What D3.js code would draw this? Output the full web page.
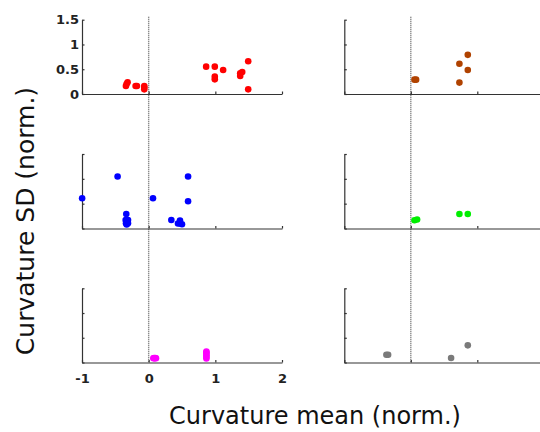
<!DOCTYPE html>
<html>
<head>
<meta charset="utf-8">
<script src="https://cdn.jsdelivr.net/npm/d3@7"></script>
<style>
  html, body { margin: 0; padding: 0; background: #fff; }
  svg { display: block; }
  .axis path, .axis line { stroke: #333; stroke-width: 1.2; }
  .axis text { font-family: "DejaVu Sans", sans-serif; font-weight: bold; font-size: 13px; fill: #222; }
  .label { font-family: "DejaVu Sans", sans-serif; font-size: 24px; fill: #111; }
</style>
</head>
<body>
<svg id="chart" width="540" height="432"></svg>
<script>
// Axis ticks shared by every panel
const xTicks = [-1, 0, 1, 2];
const yTicks = [0, 0.5, 1, 1.5];
const yTickLabels = ["0", "0.5", "1", "1.5"];
const xTickLabels = ["-1", "0", "1", "2"];

// Groups: [curvature mean, curvature SD]
const redPts = [
  [-0.316, 0.236], [-0.341, 0.16], [-0.331, 0.20], [-0.196, 0.16], [-0.176, 0.16],
  [-0.066, 0.16], [-0.066, 0.094], [-0.066, 0.13],
  [0.862, 0.552], [0.992, 0.552], [1.117, 0.485], [0.992, 0.35], [0.992, 0.296],
  [1.373, 0.418], [1.373, 0.364], [1.403, 0.444], [1.493, 0.66], [1.493, 0.094]
];
const brownPts = [
  [0.055, 0.29], [0.08, 0.29], [0.731, 0.61], [0.857, 0.79], [0.857, 0.485], [0.731, 0.23]
];
const bluePts = [
  [-0.998, 0.61], [-0.466, 1.046], [0.065, 0.61], [0.591, 1.046], [0.591, 0.55],
  [-0.336, 0.293], [-0.345, 0.17], [-0.31, 0.17], [-0.34, 0.105], [-0.31, 0.105],
  [-0.325, 0.135], [-0.33, 0.08],
  [0.34, 0.17], [0.47, 0.16], [0.47, 0.10], [0.5, 0.085], [0.44, 0.10]
];
const greenPts = [
  [0.055, 0.165], [0.095, 0.18], [0.731, 0.293], [0.857, 0.293]
];
const magentaPts = [
  [0.07, 0.085], [0.08, 0.09], [0.09, 0.085], [0.10, 0.09], [0.11, 0.085],
  [0.866, 0.08], [0.866, 0.11], [0.866, 0.14], [0.866, 0.17], [0.866, 0.20], [0.866, 0.22]
];
const grayPts = [
  [-0.367, 0.158], [-0.341, 0.158], [0.606, 0.09], [0.857, 0.347]
];

const groups = [
  { pts: redPts,     color: "#ff0000", col: 0, row: 0 },
  { pts: brownPts,   color: "#b04200", col: 1, row: 0 },
  { pts: bluePts,    color: "#0000ff", col: 0, row: 1 },
  { pts: greenPts,   color: "#00ee00", col: 1, row: 1 },
  { pts: magentaPts, color: "#ff00ff", col: 0, row: 2 },
  { pts: grayPts,    color: "#7a7a7a", col: 1, row: 2 }
];

const svg = d3.select("#chart");

// Grid of panels: horizontal extents per column, vertical extents per row
const colRanges = [[82, 282], [344.3, 543.8]];
const rowRanges = [[94, 19.7], [228.5, 154], [362.5, 288.3]];

const xScales = colRanges.map(r => d3.scaleLinear().domain([-1, 2]).range(r));
const yScales = rowRanges.map(r => d3.scaleLinear().domain([0, 1.5]).range(r));

// Dotted zero line running through each column
xScales.forEach(xs => {
  svg.append("line")
    .attr("x1", xs(0)).attr("x2", xs(0))
    .attr("y1", yScales[0](1.56)).attr("y2", yScales[2](0))
    .attr("stroke", "#666")
    .attr("stroke-width", 1.4)
    .attr("stroke-dasharray", "1,1");
});

groups.forEach(g => {
  const xs = xScales[g.col], ys = yScales[g.row];
  const showX = g.col === 0 && g.row === 2;
  const showY = g.col === 0 && g.row === 0;

  const xAxis = d3.axisBottom(xs)
    .tickValues(xTicks)
    .tickSizeInner(-2.5).tickSizeOuter(0).tickPadding(11)
    .tickFormat((d, i) => showX ? xTickLabels[i] : "");
  svg.append("g").attr("class", "axis")
    .attr("transform", `translate(0,${ys(0)})`)
    .call(xAxis);

  const yAxis = d3.axisLeft(ys)
    .tickValues(yTicks)
    .tickSizeInner(-2.5).tickSizeOuter(0).tickPadding(3)
    .tickFormat((d, i) => showY ? yTickLabels[i] : "");
  svg.append("g").attr("class", "axis")
    .attr("transform", `translate(${xs(-1)},0)`)
    .call(yAxis);

  svg.append("g").selectAll("circle")
    .data(g.pts)
    .join("circle")
    .attr("cx", d => xs(d[0]))
    .attr("cy", d => ys(d[1]))
    .attr("r", 3.3)
    .attr("fill", g.color);
});

svg.selectAll(".axis .domain").attr("fill", "none");

// Axis titles
svg.append("text").attr("class", "label")
  .attr("x", 315).attr("y", 424)
  .attr("text-anchor", "middle")
  .text("Curvature mean (norm.)");

svg.append("text").attr("class", "label")
  .attr("transform", "translate(33.5,221) rotate(-90)")
  .attr("text-anchor", "middle")
  .style("font-size", "25px")
  .text("Curvature SD (norm.)");
</script>
</body>
</html>
